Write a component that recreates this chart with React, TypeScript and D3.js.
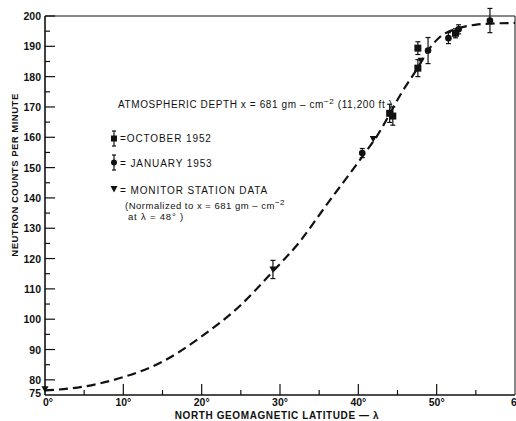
import React from "react";
import * as d3 from "d3";

// fitted curve
const curveLat = [0, 5, 10, 15, 20, 25, 29, 32.5, 35.6, 40.5, 42.2, 45.6, 47.6, 48.9, 50.2, 52.8, 54.9, 57, 60];
const curveVal = [76.5, 77.8, 80.9, 86.0, 94.3, 104.7, 115.5, 125.5, 136.5, 153.6, 159.7, 175.0, 183.0, 188.6, 192.6, 196.0, 197.1, 197.5, 197.7];

// October 1952 (squares)
const octLat = [44.0, 44.4, 47.6, 47.6, 52.4];
const octVal = [167.9, 167.0, 182.8, 189.4, 194.3];
const octErr = [3, 3, 2.8, 2.1, 1.5];

// January 1953 (circles)
const janLat = [40.5, 48.9, 51.5, 52.8, 56.8];
const janVal = [154.8, 188.6, 192.7, 195.6, 198.5];
const janErr = [1.5, 4.3, 1.8, 1.5, 4];

// monitor station data (triangles)
const monLat = [0, 29.1, 41.9, 48.0];
const monVal = [76.9, 116.4, 159.4, 185.2];
const monErr = [0, 3, 0, 0];

const yLabels = [200, 190, 180, 170, 160, 150, 140, 130, 120, 110, 100, 90, 80, 75];
const xLabels = ["0°", "10°", "20°", "30°", "40°", "50°", "6"];

const W = 516;
const H = 421;
const font = "'Liberation Sans', Arial, sans-serif";

export default function App() {
  const x = d3.scaleLinear().domain([0, 60]).range([45, 515]);
  const y = d3.scaleLinear().domain([75, 200]).range([395, 16]);

  const curve = d3
    .line<number>()
    .x((d) => x(curveLat[d]))
    .y((d) => y(curveVal[d]))
    .curve(d3.curveMonotoneX);

  const yMinor = d3.range(80, 201, 5);
  const xMinor = d3.range(5, 60, 5);

  const errBar = (lx: number, v: number, e: number, key: string) =>
    e > 0 ? (
      <g key={key} stroke="#111" strokeWidth={1.2}>
        <line x1={x(lx)} x2={x(lx)} y1={y(v - e)} y2={y(v + e)} />
        <line x1={x(lx) - 2.5} x2={x(lx) + 2.5} y1={y(v - e)} y2={y(v - e)} />
        <line x1={x(lx) - 2.5} x2={x(lx) + 2.5} y1={y(v + e)} y2={y(v + e)} />
      </g>
    ) : null;

  const tri = (cx: number, cy: number) =>
    `M${cx - 3.5},${cy - 3} L${cx + 3.5},${cy - 3} L${cx},${cy + 3.5} Z`;

  return (
    <svg
      width={W}
      height={H}
      style={{ position: "absolute", left: 0, top: 0, background: "#fff" }}
      fontFamily={font}
    >
      {/* frame */}
      <g stroke="#111" fill="none">
        <line x1={x(0)} x2={x(0)} y1={y(200)} y2={y(75)} strokeWidth={1.6} />
        <line x1={x(0)} x2={x(60)} y1={y(75)} y2={y(75)} strokeWidth={1.6} />
        <line x1={x(0)} x2={x(60)} y1={y(200)} y2={y(200)} strokeWidth={1} />
        <line x1={x(60)} x2={x(60)} y1={y(200)} y2={y(75)} strokeWidth={1} />
      </g>

      {/* y ticks */}
      <g stroke="#111" strokeWidth={1.2}>
        {yMinor.map((v) => (
          <line key={v} x1={x(0)} x2={x(0) + (v % 10 === 0 ? 10 : 5)} y1={y(v)} y2={y(v)} />
        ))}
      </g>
      {/* x ticks */}
      <g stroke="#111" strokeWidth={1.2}>
        {xMinor.map((v) => (
          <line key={v} x1={x(v)} x2={x(v)} y1={y(75)} y2={y(75) - (v % 10 === 0 ? 11 : 5)} />
        ))}
      </g>

      {/* tick labels */}
      <g fontSize={10.5} fontWeight="bold" fill="#111" textAnchor="end">
        {yLabels.map((v) => (
          <text key={v} x={x(0) - 4} y={y(v) + (v === 75 ? 2 : 4)}>
            {v}
          </text>
        ))}
      </g>
      <g fontSize={10.5} fontWeight="bold" fill="#111" textAnchor="middle">
        {xLabels.map((t, i) => (
          <text key={t} x={x(i * 10) + (i === 0 ? 3 : i === 6 ? -1 : 0)} y={406}>
            {t}
          </text>
        ))}
      </g>

      {/* axis titles */}
      <text
        transform={`translate(18,175) rotate(-90)`}
        textAnchor="middle"
        fontSize={9.5}
        fontWeight="bold"
        fill="#111"
        letterSpacing={0.5}
      >
        NEUTRON COUNTS PER MINUTE
      </text>
      <text x={277} y={419} textAnchor="middle" fontSize={10} fontWeight="bold" fill="#111" letterSpacing={0.6}>
        NORTH GEOMAGNETIC LATITUDE — λ
      </text>

      {/* fitted curve */}
      <path
        d={curve(d3.range(curveLat.length)) || ""}
        fill="none"
        stroke="#111"
        strokeWidth={2.2}
        strokeDasharray="9 5"
      />

      {/* error bars */}
      {octLat.map((l, i) => errBar(l, octVal[i], octErr[i], "oe" + i))}
      {janLat.map((l, i) => errBar(l, janVal[i], janErr[i], "je" + i))}
      {monLat.map((l, i) => errBar(l, monVal[i], monErr[i], "me" + i))}

      {/* markers */}
      <g fill="#111">
        {octLat.map((l, i) => (
          <rect key={"o" + i} x={x(l) - 3.5} y={y(octVal[i]) - 3.5} width={7} height={7} />
        ))}
        {janLat.map((l, i) => (
          <circle key={"j" + i} cx={x(l)} cy={y(janVal[i])} r={3.3} />
        ))}
        {monLat.map((l, i) => (
          <path key={"m" + i} d={tri(x(l), y(monVal[i]))} />
        ))}
      </g>

      {/* annotation + legend */}
      <g fill="#111" fontSize={10} letterSpacing={0.6}>
        <text x={118} y={108}>
          ATMOSPHERIC DEPTH x = 681 gm – cm
          <tspan dy={-4} fontSize={8}>−2</tspan>
          <tspan dy={4}>  (11,200 ft )</tspan>
        </text>

        <g stroke="#111" strokeWidth={1.2}>
          <line x1={114} x2={114} y1={131} y2={146} />
          <line x1={112} x2={116} y1={131} y2={131} />
          <line x1={112} x2={116} y1={146} y2={146} />
          <line x1={114} x2={114} y1={155} y2={170} />
          <line x1={112} x2={116} y1={155} y2={155} />
          <line x1={112} x2={116} y1={170} y2={170} />
        </g>
        <rect x={111} y={135.5} width={6} height={6} />
        <circle cx={114} cy={162.5} r={3} />
        <path d={tri(114, 189)} />

        <text x={120} y={142} letterSpacing={0.9}>=OCTOBER 1952</text>
        <text x={120} y={166.5} letterSpacing={0.9}>= JANUARY 1953</text>
        <text x={120} y={193.5} letterSpacing={0.9}>= MONITOR STATION DATA</text>
        <text x={125} y={208.5} fontSize={9.5} letterSpacing={0.5}>
          (Normalized to x = 681 gm – cm
          <tspan dy={-4} fontSize={8}>−2</tspan>
        </text>
        <text x={128} y={220} fontSize={9.5} letterSpacing={0.8}>
          at λ = 48° )
        </text>
      </g>
    </svg>
  );
}
